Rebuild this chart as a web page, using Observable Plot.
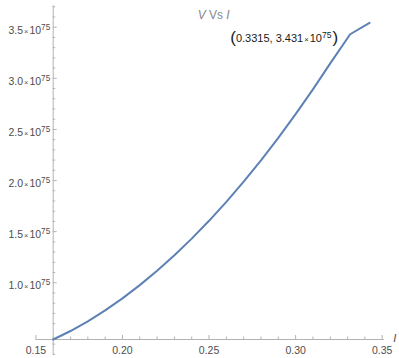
<!DOCTYPE html>
<html><head><meta charset="utf-8">
<script src="https://cdn.jsdelivr.net/npm/d3@7"></script>
<script src="https://cdn.jsdelivr.net/npm/@observablehq/plot@0.6"></script>
<style>body{margin:0;background:#fff} svg{display:block}</style>
</head><body><div id="chart"></div>
<script>
// Data
const currentI = [0.160, 0.170, 0.180, 0.190, 0.200, 0.210, 0.220, 0.230, 0.240, 0.250, 0.260, 0.270, 0.280, 0.290, 0.300, 0.310, 0.320, 0.3315, 0.3427];
const voltageV = [0.445e75, 0.528e75, 0.623e75, 0.730e75, 0.847e75, 0.977e75, 1.117e75, 1.269e75, 1.432e75, 1.606e75, 1.792e75, 1.989e75, 2.198e75, 2.418e75, 2.649e75, 2.892e75, 3.146e75, 3.431e75, 3.543e75];
const labelPoint = [{I: 0.3315, V: 3.431e75}];

const xMajor = [0.15, 0.20, 0.25, 0.30, 0.35];
const xMajorLabels = ["0.15", "0.20", "0.25", "0.30", "0.35"];
const xMinor = [0.16, 0.17, 0.18, 0.19, 0.21, 0.22, 0.23, 0.24, 0.26, 0.27, 0.28, 0.29, 0.31, 0.32, 0.33, 0.34];
const yMajor = [1.0e75, 1.5e75, 2.0e75, 2.5e75, 3.0e75, 3.5e75];
const yMajorLabels = ["1.0", "1.5", "2.0", "2.5", "3.0", "3.5"];
const yMinor = [0.3e75, 0.4e75, 0.6e75, 0.7e75, 0.8e75, 0.9e75, 1.1e75, 1.2e75, 1.3e75, 1.4e75, 1.6e75, 1.7e75, 1.8e75, 1.9e75, 2.1e75, 2.2e75, 2.3e75, 2.4e75, 2.6e75, 2.7e75, 2.8e75, 2.9e75, 3.1e75, 3.2e75, 3.3e75, 3.4e75, 3.6e75, 3.7e75];
const titleText = "V Vs I";
const xAxisLabel = "I";

const exponent = 75;
const xOrigin = 0.16, yOrigin = 0.445e75;
const xAxisEnd = 0.3512, yAxisStart = 0.29e75, yAxisEnd = 3.71e75;

const pts = currentI.map((d, i) => ({I: d, V: voltageV[i]}));
const xTickData = xMajor.map((d, i) => ({v: d, label: xMajorLabels[i]}));
const yTickData = yMajor.map((d, i) => ({v: d, label: `${yMajorLabels[i]}×10^${exponent}`}));

const axisColor = "#b3b3b3";
const labelColor = "#4d4d4d";

const chart = Plot.plot({
  width: 399,
  height: 358,
  marginLeft: 52.7,
  marginRight: 17.3,
  marginTop: 26.7,
  marginBottom: 19,
  style: {fontFamily: "'Liberation Sans', Arial, sans-serif", fontSize: "10px", background: "#fff"},
  x: {domain: [0.16, 0.35], axis: null},
  y: {domain: [0.445e75, 3.5e75], axis: null},
  marks: [
    // axis lines
    Plot.ruleY([yOrigin], {x1: 0.15, x2: xAxisEnd, stroke: axisColor}),
    Plot.ruleX([xOrigin], {y1: yAxisStart, y2: yAxisEnd, stroke: axisColor}),
    // x ticks (pointing up)
    Plot.ruleX(xMajor, {x: d => d, y1: yOrigin, y2: yOrigin, insetTop: -4, stroke: axisColor}),
    Plot.ruleX(xMinor, {x: d => d, y1: yOrigin, y2: yOrigin, insetTop: -2.5, stroke: axisColor}),
    // y ticks (pointing right)
    Plot.ruleY(yMajor, {y: d => d, x1: xOrigin, x2: xOrigin, insetRight: -4, stroke: axisColor}),
    Plot.ruleY(yMinor, {y: d => d, x1: xOrigin, x2: xOrigin, insetRight: -2.5, stroke: axisColor}),
    // tick labels
    Plot.text(xTickData, {x: "v", y: () => yOrigin, text: "label", dy: 11, fill: labelColor, fontSize: 10.5}),
    Plot.text(yTickData, {x: () => xOrigin, y: "v", text: "label", textAnchor: "end", dx: -3, dy: 3, fill: labelColor, fontSize: 10.5}),
    // data line
    Plot.line(pts, {x: "I", y: "V", stroke: "#5E81B5", strokeWidth: 2}),
    // point label
    Plot.text(labelPoint, {x: "I", y: "V", text: d => `(${d.I}, ${(d.V / 1e75).toFixed(3)}×10^${exponent})`, textAnchor: "end", dx: -12, dy: 4, fill: "#1a1a1a", fontSize: 11}),
    // x axis label
    Plot.text([xAxisLabel], {x: () => xAxisEnd, y: () => yOrigin, text: d => d, textAnchor: "start", dx: 9, dy: -1, fill: labelColor, fontSize: 11, fontStyle: "italic"}),
    // title
    Plot.text([titleText], {frameAnchor: "top", text: d => d, dx: -4, dy: -17, fill: "#888", fontSize: 12})
  ]
});

// Rich text: superscripts and italics
d3.select(chart).selectAll("text").each(function() {
  const s = this.textContent;
  const sel = d3.select(this);
  const m = s.match(/^(\(?)(.*)×10\^(\d+)(\)?)$/);
  if (m) {
    sel.text(null);
    if (m[1]) sel.append("tspan").attr("font-size", "17px").attr("font-weight", 300).attr("dy", "1px").text("(");
    sel.append("tspan").attr("dy", m[1] ? "-1px" : null).text(m[2]);
    sel.append("tspan").attr("font-size", "0.7em").attr("dx", "1px").text("×");
    sel.append("tspan").attr("dx", "1px").text("10");
    sel.append("tspan").attr("font-size", "0.78em").attr("dy", "-4px").text(m[3]);
    if (m[4]) sel.append("tspan").attr("font-size", "17px").attr("font-weight", 300).attr("dy", "5px").attr("dx", "1px").text(")");
  } else if (s === titleText) {
    sel.text(null);
    sel.append("tspan").attr("font-style", "italic").text("V");
    sel.append("tspan").text(" Vs ");
    sel.append("tspan").attr("font-style", "italic").text("I");
  }
});

document.getElementById("chart").appendChild(chart);
</script>
</body></html>
